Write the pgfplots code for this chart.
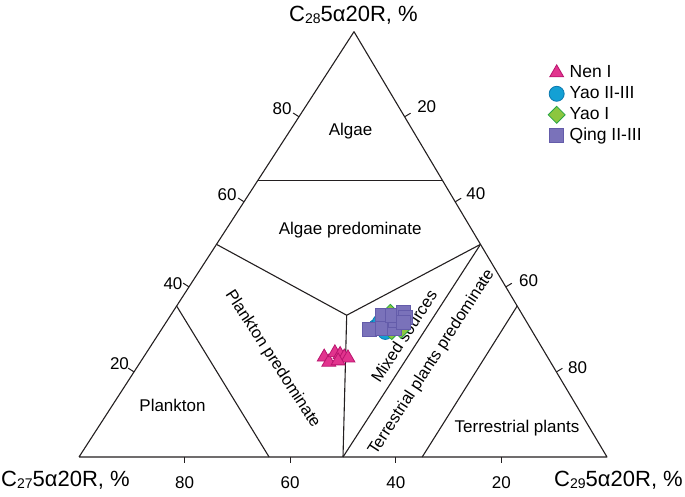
\documentclass[border=0pt]{standalone}
\usepackage{fontspec}
\setmainfont{Liberation Sans}
\usepackage{pgfplots}
\usepackage{pgfplotstable}
\pgfplotsset{compat=1.18}

\definecolor{nenfill}{RGB}{226,52,142}
\definecolor{nendraw}{RGB}{185,20,110}
\definecolor{yaofill}{RGB}{20,160,212}
\definecolor{yaodraw}{RGB}{10,120,175}
\definecolor{yaoIfill}{RGB}{140,198,63}
\definecolor{yaoIdraw}{RGB}{40,165,70}
\definecolor{qingfill}{RGB}{122,114,186}
\definecolor{qingdraw}{RGB}{100,92,170}
\definecolor{linec}{RGB}{35,31,32}

% ternary data: C27, C28, C29 (%)
\pgfplotstableread{
C27 C28 C29
42.3 23.5 34.2
42.0 22.3 35.7
39.8 24.5 35.7
39.0 24.1 36.9
38.5 23.5 38.0
37.9 23.3 38.8
40.1 22.6 37.3
}\nenI

\pgfplotstableread{
C27 C28 C29
29.1 30.6 40.3
27.9 29.4 42.7
27.8 31.7 40.5
25.3 31.0 43.7
23.8 32.2 44.0
25.8 32.7 41.5
}\yaoIIIII

\pgfplotstableread{
C27 C28 C29
24.8 33.9 41.3
24.7 29.9 45.4
26.6 29.6 43.8
23.9 32.7 43.4
}\yaoI

\pgfplotstableread{
C27 C28 C29
30.5 30.1 39.4
26.7 33.2 40.1
28.1 30.3 41.6
25.8 30.3 43.9
24.8 32.0 43.2
24.7 33.4 41.9
22.3 34.1 43.6
22.5 32.9 44.6
23.3 31.7 45.0
}\qing

% ternary -> picture coordinates
\newcommand\tx{79+2.75*\thisrow{C28}+5.28*\thisrow{C29}}
\newcommand\ty{40+4.253*\thisrow{C28}}

\newcommand\ttl[1]{\fontsize{22}{24}\selectfont C\raisebox{-1.6pt}{\fontsize{14}{14}\selectfont #1}5α20R, \%}

\begin{document}
\begin{tikzpicture}
\begin{axis}[
  width=685pt, height=497pt, scale only axis,
  xmin=0, xmax=685, ymin=0, ymax=497, enlargelimits=false,
  axis lines=none, clip=false,
  legend style={at={(axis cs:548,434)}, anchor=north west, draw=none, fill=none,
    inner sep=0pt, row sep=1.8pt, column sep=3pt,
    font=\fontsize{17.5}{20}\selectfont,
    nodes={inner sep=1.5pt, text height=12.6pt, text depth=3.6pt}},
  legend image code/.code={\draw[#1] plot coordinates {(0pt,0pt)};},
  legend cell align=left,
]
% ---- region boundaries
\addplot[linec, line width=1.1pt, line join=round, forget plot] table[x expr=\tx, y expr=\ty, row sep=\\] {C27 C28 C29\\ 100 0 0\\ 0 100 0\\ 0 0 100\\ 100 0 0\\};
\addplot[linec, line width=1.1pt, forget plot] table[x expr=\tx, y expr=\ty, row sep=\\] {C27 C28 C29\\ 35 65 0\\ 0 65 35\\};
\addplot[linec, line width=1.1pt, line join=round, forget plot] table[x expr=\tx, y expr=\ty, row sep=\\] {C27 C28 C29\\ 50 50 0\\ 33.33 33.33 33.34\\ 0 50 50\\};
\addplot[linec, line width=1.1pt, forget plot] table[x expr=\tx, y expr=\ty, row sep=\\] {C27 C28 C29\\ 33.33 33.33 33.34\\ 50 0 50\\};
\addplot[linec, line width=1.1pt, forget plot] table[x expr=\tx, y expr=\ty, row sep=\\] {C27 C28 C29\\ 0 50 50\\ 50 0 50\\};
\addplot[linec, line width=1.1pt, forget plot] table[x expr=\tx, y expr=\ty, row sep=\\] {C27 C28 C29\\ 64.5 35.5 0\\ 64 0 36\\};
\addplot[linec, line width=1.1pt, forget plot] table[x expr=\tx, y expr=\ty, row sep=\\] {C27 C28 C29\\ 0 35.5 64.5\\ 35 0 65\\};

% ---- ticks
\draw[linec, line width=1pt] (axis cs:184.6,40) -- (axis cs:184.6,34);
\draw[linec, line width=1pt] (axis cs:290.2,40) -- (axis cs:290.2,34);
\draw[linec, line width=1pt] (axis cs:395.8,40) -- (axis cs:395.8,34);
\draw[linec, line width=1pt] (axis cs:501.4,40) -- (axis cs:501.4,34);
\draw[linec, line width=1pt] (axis cs:134,125.1) -- (axis cs:128.1,128.9);
\draw[linec, line width=1pt] (axis cs:189,210.1) -- (axis cs:183.1,213.9);
\draw[linec, line width=1pt] (axis cs:244,295.2) -- (axis cs:238.1,299);
\draw[linec, line width=1pt] (axis cs:299,380.2) -- (axis cs:293.1,384);
\draw[linec, line width=1pt] (axis cs:404.6,380.2) -- (axis cs:410.6,383.8);
\draw[linec, line width=1pt] (axis cs:455.2,295.2) -- (axis cs:461.2,298.8);
\draw[linec, line width=1pt] (axis cs:505.8,210.1) -- (axis cs:511.8,213.7);
\draw[linec, line width=1pt] (axis cs:556.4,125.1) -- (axis cs:562.4,128.7);

% ---- tick labels
\begin{scope}[every node/.style={font=\fontsize{17}{20}\selectfont, inner sep=0pt, anchor=center}]
\node at (axis cs:184.6,14.5) {80};
\node at (axis cs:290.2,14.5) {60};
\node at (axis cs:395.8,14.5) {40};
\node at (axis cs:501.4,14.5) {20};
\node at (axis cs:119.5,133) {20};
\node at (axis cs:173,213.5) {40};
\node at (axis cs:227,302.3) {60};
\node at (axis cs:282,388.5) {80};
\node at (axis cs:426.7,390.5) {20};
\node at (axis cs:475.8,303) {40};
\node at (axis cs:528.5,216.5) {60};
\node at (axis cs:577.5,129) {80};
\end{scope}

% ---- axis titles
\node[anchor=base, inner sep=0pt] at (axis cs:353.5,475.3) {\ttl{28}};
\node[anchor=base west, inner sep=0pt] at (axis cs:1,10.3) {\ttl{27}};
\node[anchor=base east, inner sep=0pt] at (axis cs:683,10.3) {\ttl{29}};

% ---- region labels
\begin{scope}[every node/.style={font=\fontsize{17}{20}\selectfont, inner sep=0pt}]
\node[anchor=base] at (axis cs:350.5,361) {Algae};
\node[anchor=base] at (axis cs:350.2,262) {Algae predominate};
\node[anchor=base] at (axis cs:172.5,85.3) {Plankton};
\node[anchor=base] at (axis cs:517,64.5) {Terrestrial plants};
\end{scope}
\begin{scope}[every node/.style={font=\fontsize{16.5}{19}\selectfont, inner sep=0pt, anchor=center}]
\node[rotate=-57] at (axis cs:272.5,138) {Plankton predominate};
\node[rotate=57] at (axis cs:404,161) {Mixed sources};
\node[rotate=57] at (axis cs:431.7,134.5) {Terrestrial plants predominate};
\end{scope}

% ---- samples
\addplot[only marks, mark=triangle*, mark size=8pt,
  mark options={fill=nenfill, draw=nendraw, line width=0.8pt}]
  table[x expr=\tx, y expr=\ty] {\nenI};
\addlegendentry{Nen I}
\addplot[only marks, mark=*, mark size=7.5pt,
  mark options={fill=yaofill, draw=yaodraw, line width=0.8pt}]
  table[x expr=\tx, y expr=\ty] {\yaoIIIII};
\addlegendentry{Yao II-III}
\addplot[only marks, mark=square*, mark size=6pt,
  mark options={rotate=45, fill=yaoIfill, draw=yaoIdraw, line width=0.8pt}]
  table[x expr=\tx, y expr=\ty] {\yaoI};
\addlegendentry{Yao I}
\addplot[only marks, mark=square*, mark size=7pt,
  mark options={fill=qingfill, draw=qingdraw, line width=0.8pt}]
  table[x expr=\tx, y expr=\ty] {\qing};
\addlegendentry{Qing II-III}
\end{axis}
\pgfresetboundingbox
\path[use as bounding box] (current axis.south west) rectangle (current axis.north east);
\end{tikzpicture}
\end{document}
